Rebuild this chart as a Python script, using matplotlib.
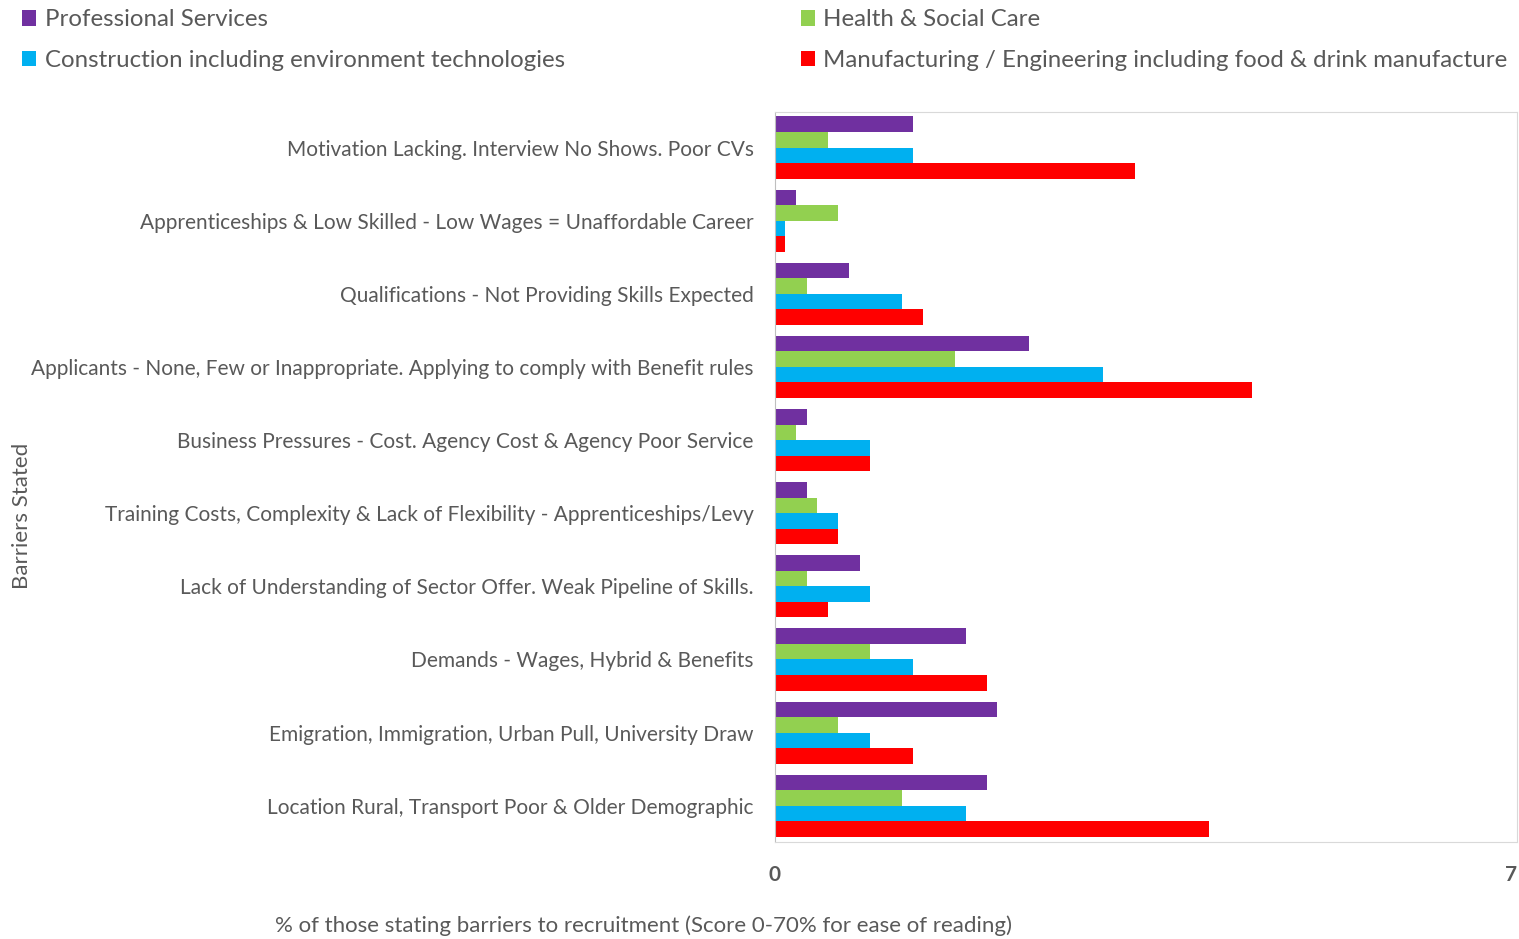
import numpy as np
import matplotlib

matplotlib.use("Agg")
import matplotlib.pyplot as plt
from matplotlib.patches import Patch

plt.rcParams["font.family"] = ["Lato", "DejaVu Sans"]

barriers = [
    "Motivation Lacking. Interview No Shows. Poor CVs",
    "Apprenticeships & Low Skilled - Low Wages = Unaffordable Career",
    "Qualifications - Not Providing Skills Expected",
    "Applicants - None, Few or Inappropriate. Applying to comply with Benefit rules",
    "Business Pressures - Cost. Agency Cost & Agency Poor Service",
    "Training Costs, Complexity & Lack of Flexibility - Apprenticeships/Levy",
    "Lack of Understanding of Sector Offer. Weak Pipeline of Skills.",
    "Demands - Wages, Hybrid & Benefits",
    "Emigration, Immigration, Urban Pull, University Draw",
    "Location Rural, Transport Poor & Older Demographic",
]

sectors = [
    "Professional Services",
    "Health & Social Care",
    "Construction including environment technologies",
    "Manufacturing / Engineering including food & drink manufacture",
]
colors = ["#7030A0", "#92D050", "#00B0F0", "#FF0000"]

professional = [1.3, 0.2, 0.7, 2.4, 0.3, 0.3, 0.8, 1.8, 2.1, 2.0]
health = [0.5, 0.6, 0.3, 1.7, 0.2, 0.4, 0.3, 0.9, 0.6, 1.2]
construction = [1.3, 0.1, 1.2, 3.1, 0.9, 0.6, 0.9, 1.3, 0.9, 1.8]
manufacturing = [3.4, 0.1, 1.4, 4.5, 0.9, 0.6, 0.5, 2.0, 1.3, 4.1]
series = [professional, health, construction, manufacturing]

fig = plt.figure(figsize=(15.19, 9.39), dpi=100)
ax = fig.add_axes([0.510, 0.103, 0.4887, 0.778])

y = np.arange(len(barriers))
bar_h = 0.2125
for i, (vals, col) in enumerate(zip(series, colors)):
    offset = (i - 1.5) * bar_h
    ax.barh(y + offset, vals, height=bar_h, color=col, edgecolor="none")

ax.set_ylim(len(barriers) - 0.5, -0.49)
ax.set_xlim(0, 7)
ax.set_yticks(y)
ax.set_yticklabels(barriers, fontsize=15, color="#595959")
ax.set_xticks([0, 7])
ax.set_xticklabels(["0", "7"], fontsize=15, fontweight="bold", color="#595959")
ax.get_xticklabels()[-1].set_horizontalalignment("right")
ax.tick_params(axis="both", length=0)
ax.tick_params(axis="y", pad=15)
ax.tick_params(axis="x", pad=16)
for side in ["top", "right", "bottom"]:
    ax.spines[side].set_color("#D9D9D9")
ax.spines["left"].set_color("#BFBFBF")

fig.text(0.4235, 0.0138, "% of those stating barriers to recruitment (Score 0-70% for ease of reading)",
         ha="center", va="center", fontsize=16, color="#595959")
fig.text(0.0145, 0.451, "Barriers Stated", rotation=90, ha="center", va="center",
         fontsize=16, color="#595959")

handles = [Patch(facecolor=c, edgecolor="none") for c in colors]
legend_kw = dict(frameon=False, fontsize=17.3, handlelength=0.6, handleheight=0.6,
                 handletextpad=0.35, labelspacing=0.82, labelcolor="#595959",
                 loc="upper left", borderaxespad=0, borderpad=0)
fig.legend([handles[0], handles[2]], [sectors[0], sectors[2]],
           bbox_to_anchor=(0.0145, 0.99), **legend_kw)
fig.legend([handles[1], handles[3]], [sectors[1], sectors[3]],
           bbox_to_anchor=(0.527, 0.99), **legend_kw)

fig.savefig("out.png", dpi=100)
